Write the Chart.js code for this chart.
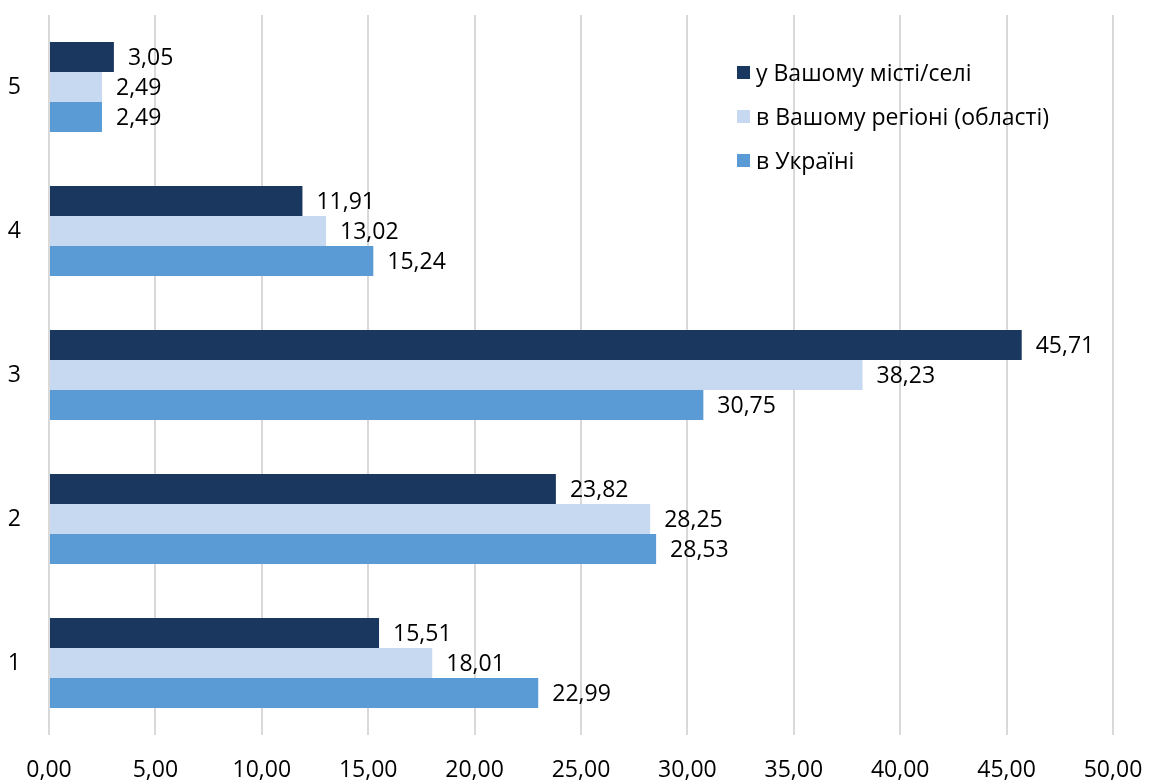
<!DOCTYPE html>
<html>
<head>
<meta charset="utf-8">
<script src="https://cdn.jsdelivr.net/npm/chart.js@4"></script>
<style>
  body { margin: 0; background: #fff; }
  #wrap { position: relative; width: 1149px; height: 780px; }
  #legend { position: absolute; left: 737px; top: 57px; font-family: "Open Sans", sans-serif; font-size: 23px; line-height: 30px; color: #000; }
  #legend div { height: 44px; display: flex; align-items: flex-start; }
  #legend span.box { display: inline-block; width: 13px; height: 13px; margin: 9px 6px 0 0; }
</style>
</head>
<body>
<div id="wrap">
  <canvas id="myChart" width="1149" height="780"></canvas>
  <div id="legend"></div>
</div>
<script>
    // категорії (1 внизу, 5 вгорі)
    const categories = ['1', '2', '3', '4', '5'];

    const seriesNames = [
        'у Вашому місті/селі',
        'в Вашому регіоні (області)',
        'в Україні',
    ];

    const cityValues = [15.51, 23.82, 45.71, 11.91, 3.05];
    const regionValues = [18.01, 28.25, 38.23, 13.02, 2.49];
    const ukraineValues = [22.99, 28.53, 30.75, 15.24, 2.49];

    const colors = ['#1a375f', '#c6d9f1', '#5b9bd5'];

    const fmt = v => v.toFixed(2).replace('.', ',');
    const font = '"Open Sans", sans-serif';

    const data = {
        labels: categories,
        datasets: [
            { label: seriesNames[0], data: cityValues, backgroundColor: colors[0] },
            { label: seriesNames[1], data: regionValues, backgroundColor: colors[1] },
            { label: seriesNames[2], data: ukraineValues, backgroundColor: colors[2] },
        ]
    };

    // підписи значень праворуч від смуг
    const valueLabels = {
        id: 'valueLabels',
        afterDatasetsDraw(chart) {
            const ctx = chart.ctx;
            ctx.save();
            ctx.font = '23px ' + font;
            ctx.fillStyle = '#000';
            ctx.textAlign = 'left';
            ctx.textBaseline = 'middle';
            chart.data.datasets.forEach((ds, i) => {
                chart.getDatasetMeta(i).data.forEach((el, j) => {
                    ctx.fillText(fmt(ds.data[j]), el.x + 14, el.y + 1);
                });
            });
            ctx.restore();
        }
    };

    const config = {
        type: 'bar',
        data: data,
        plugins: [valueLabels],
        options: {
            indexAxis: 'y',
            responsive: false,
            animation: false,
            categoryPercentage: 0.625,
            barPercentage: 1,
            layout: { padding: { top: 15, right: 36, left: 0, bottom: 0 } },
            plugins: {
                legend: { display: false },
                tooltip: { enabled: false }
            },
            scales: {
                x: {
                    min: 0,
                    max: 50,
                    ticks: {
                        stepSize: 5,
                        padding: 22,
                        color: '#000',
                        font: { family: font, size: 23 },
                        callback: v => fmt(v)
                    },
                    grid: { color: '#d9d9d9', lineWidth: 2, drawTicks: false },
                    border: { display: false },
                    afterFit: s => {
                        s.height = 45;
                        s.paddingLeft = 0;
                        s.paddingRight = 0;
                    }
                },
                y: {
                    reverse: true,
                    ticks: {
                        padding: 20,
                        color: '#000',
                        font: { family: font, size: 23 }
                    },
                    grid: { display: false },
                    border: { display: false },
                    afterFit: s => {
                        s.width = 49;
                        s.paddingTop = 0;
                        s.paddingBottom = 0;
                    }
                }
            }
        }
    };

    const myChart = new Chart(document.getElementById('myChart'), config);

    // легенда
    const legend = document.getElementById('legend');
    data.datasets.forEach(ds => {
        const row = document.createElement('div');
        row.innerHTML = '<span class="box" style="background:' + ds.backgroundColor + '"></span><span>' + ds.label + '</span>';
        legend.appendChild(row);
    });
</script>
</body>
</html>
